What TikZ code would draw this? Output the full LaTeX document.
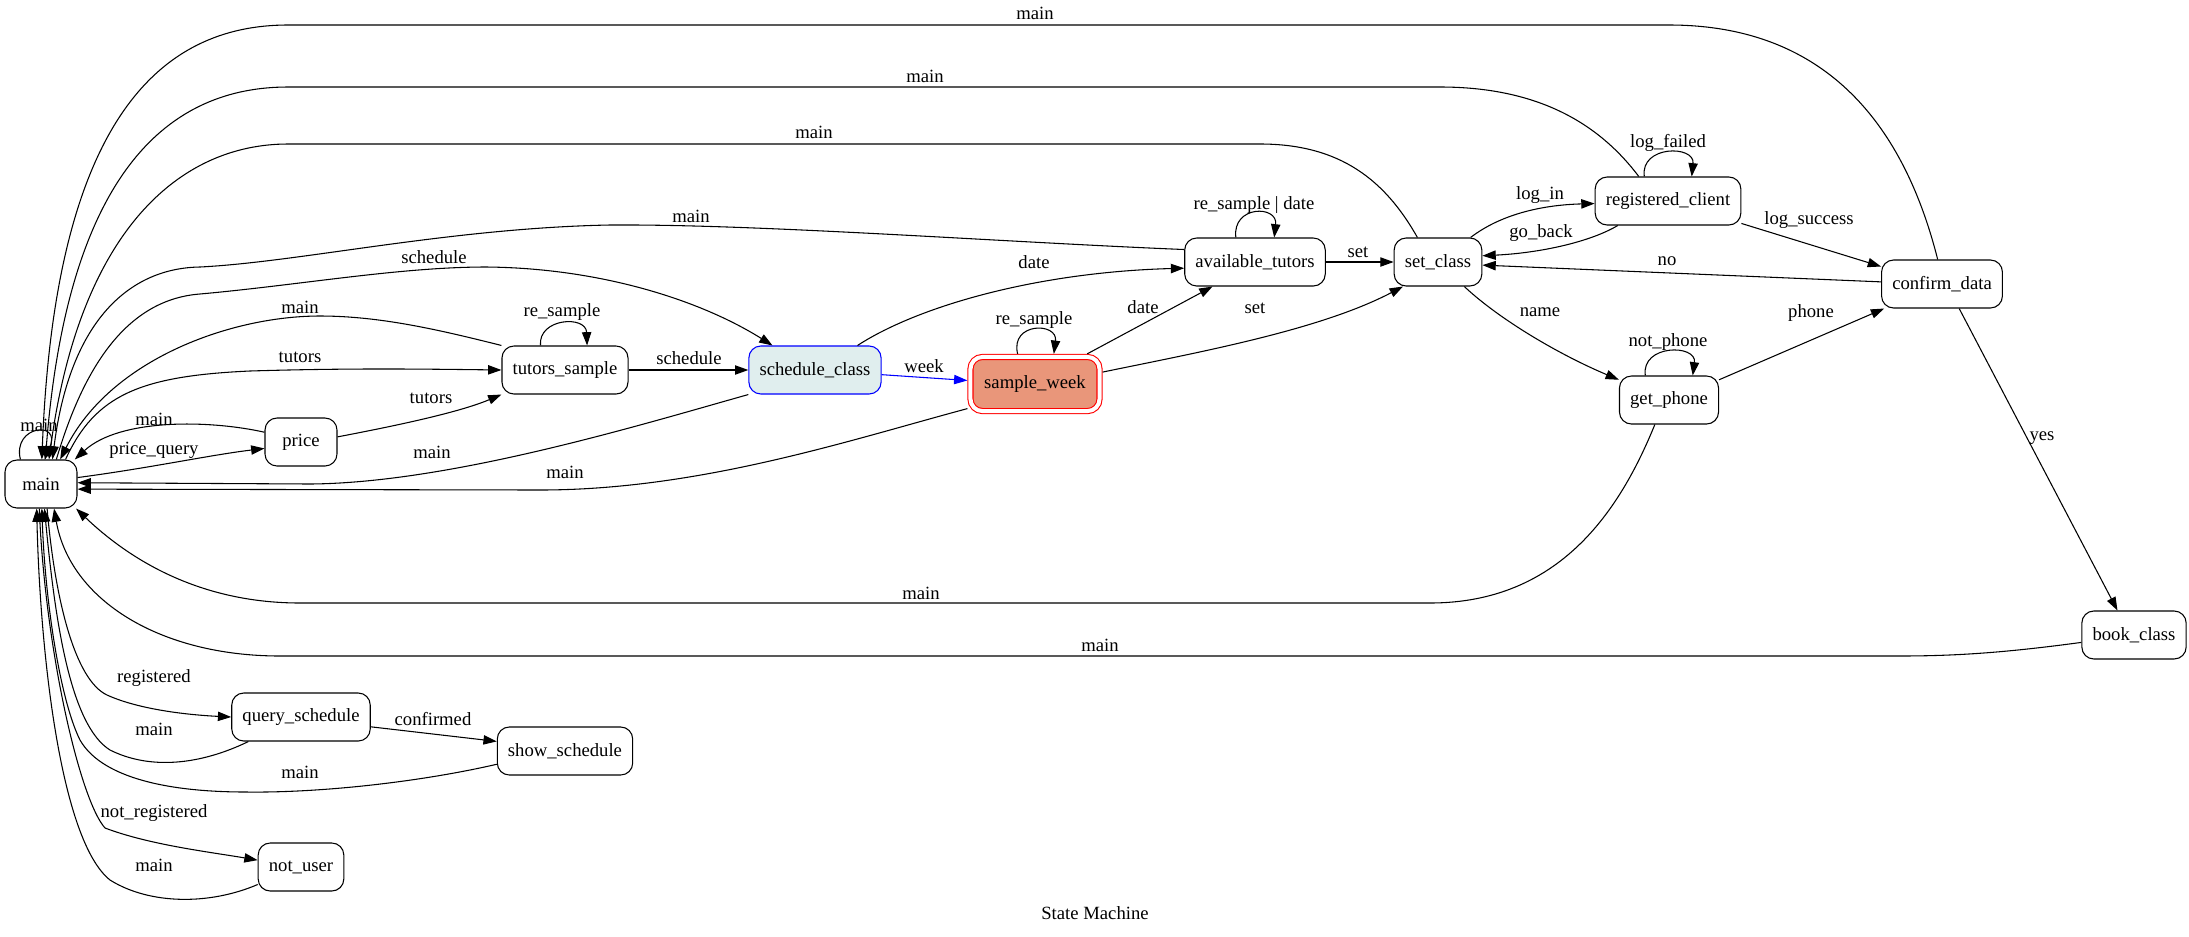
\documentclass[tikz,border=0pt]{standalone}
\usepackage{fontspec}
\setmainfont{Liberation Serif}
\usetikzlibrary{arrows.meta}
\definecolor{azuretwo}{HTML}{E0EEEE}
\definecolor{darksalmon}{HTML}{E9967A}

\begin{document}
\begin{tikzpicture}[x=0.75pt,y=-0.75pt]
\tikzset{
  statenode/.style={draw=black,line width=0.8pt,rounded corners=9pt,minimum width=54pt,minimum height=36pt,inner xsep=8pt,inner ysep=1pt,font=\fontsize{14}{16}\selectfont},
  activenode/.style={statenode,draw=blue,fill=azuretwo},
  currentnode/.style={statenode,draw=red,fill=darksalmon,double=white,double distance=3pt,minimum height=40.6pt,inner xsep=10.3pt,outer sep=2.3pt},
  edgelabel/.style={inner sep=0pt,font=\fontsize{14}{16}\selectfont},
  trans/.style={draw=black,line width=0.8pt,line join=round,-{Triangle[length=10pt,width=7pt]}}
}
\useasboundingbox (0,0) rectangle (2189,936);
\node[statenode] (n_main) at (41,484) {main};
\node[statenode] (n_price) at (301,442) {price};
\node[statenode] (n_tutors_sample) at (565,370) {tutors\_sample};
\node[activenode] (n_schedule_class) at (815,370) {schedule\_class};
\node[currentnode] (n_sample_week) at (1035,384) {sample\_week};
\node[statenode] (n_available_tutors) at (1255,262) {available\_tutors};
\node[statenode] (n_set_class) at (1438,262) {set\_class};
\node[statenode] (n_registered_client) at (1668,201) {registered\_client};
\node[statenode] (n_confirm_data) at (1942,284) {confirm\_data};
\node[statenode] (n_get_phone) at (1669,400) {get\_phone};
\node[statenode] (n_book_class) at (2134,635) {book\_class};
\node[statenode] (n_query_schedule) at (301,717) {query\_schedule};
\node[statenode] (n_show_schedule) at (565,751) {show\_schedule};
\node[statenode] (n_not_user) at (301,867) {not\_user};
\node[edgelabel] (n_title) at (1095,913) {State Machine};
\draw[trans] (n_main.130) .. controls (12,425) and (62,420) .. (n_main.82);
\draw[trans] (n_confirm_data.100) .. controls (1905,130) and (1830,25) .. (1669,25) -- (288,25) .. controls (160,25) and (55,120) .. (n_main.88);
\draw[trans] (n_registered_client.140) .. controls (1600,125) and (1540,87) .. (1440,87) -- (288,87) .. controls (170,87) and (68,170) .. (n_main.80);
\draw[trans] (n_set_class.130) .. controls (1385,180) and (1340,144) .. (1260,144) -- (288,144) .. controls (180,144) and (80,230) .. (n_main.72);
\draw[trans] (n_available_tutors.170) .. controls (1000,242) and (760,224) .. (610,225) .. controls (450,228) and (300,262) .. (200,267) .. controls (130,268) and (70,320) .. (n_main.65);
\draw[trans] (n_main.58) .. controls (80,380) and (120,300) .. (200,294) .. controls (300,285) and (400,267) .. (486,267) .. controls (600,268) and (700,300) .. (n_schedule_class.150);
\draw[trans] (n_tutors_sample.north west) .. controls (440,330) and (380,316) .. (320,316) .. controls (230,316) and (110,360) .. (n_main.52);
\draw[trans] (n_main.45) .. controls (95,395) and (140,376) .. (250,371) .. controls (350,368) and (420,369) .. (n_tutors_sample.west);
\draw[trans] (n_price.165) .. controls (210,420) and (120,418) .. (n_main.36);
\draw[trans] (n_main.10) .. controls (150,468) and (210,455) .. (n_price.190);
\draw[trans] (n_price.8) .. controls (400,425) and (460,412) .. (n_tutors_sample.south west);
\draw[trans] (n_tutors_sample.135) .. controls (538,318) and (586,315) .. (n_tutors_sample.48);
\draw[trans] (n_tutors_sample) -- (n_schedule_class);
\draw[trans] (n_schedule_class.south west) .. controls (640,425) and (450,483) .. (310,484) -- (n_main.2);
\draw[trans] (n_sample_week.200) .. controls (850,440) and (700,490) .. (540,490) -- (n_main.-8);
\draw[trans,draw=blue] (n_schedule_class.-4) -- (n_sample_week.177);
\draw[trans] (n_schedule_class.30) .. controls (920,305) and (1040,272) .. (n_available_tutors.185);
\draw[trans] (n_sample_week.120) .. controls (1010,322) and (1058,322) .. (n_sample_week.58);
\draw[trans] (n_sample_week.30) -- (n_available_tutors.210);
\draw[trans] (n_sample_week.10) .. controls (1200,352) and (1320,330) .. (n_set_class.215);
\draw[trans] (n_available_tutors.128) .. controls (1232,205) and (1278,205) .. (n_available_tutors.52);
\draw[trans] (n_available_tutors) -- (n_set_class);
\draw[trans] (n_set_class.37) .. controls (1500,215) and (1540,205) .. (n_registered_client.182);
\draw[trans] (n_registered_client.206) .. controls (1590,242) and (1540,253) .. (n_set_class.8);
\draw[trans] (n_registered_client.134) .. controls (1640,145) and (1695,145) .. (n_registered_client.46);
\draw[trans] (n_registered_client.-17) -- (n_confirm_data.164);
\draw[trans] (n_confirm_data.178) -- (n_set_class.-4);
\draw[trans] (n_confirm_data.-55) -- (n_book_class.124);
\draw[trans] (n_set_class.-43) .. controls (1500,320) and (1560,355) .. (n_get_phone.158);
\draw[trans] (n_get_phone.134) .. controls (1641,344) and (1697,344) .. (n_get_phone.46);
\draw[trans] (n_get_phone.22) -- (n_confirm_data.203);
\draw[trans] (n_get_phone.240) .. controls (1620,510) and (1560,603) .. (1430,603) -- (300,603) .. controls (200,603) and (130,560) .. (n_main.-35);
\draw[trans] (n_book_class.188) .. controls (2010,652) and (1960,656) .. (1900,656) -- (280,656) .. controls (160,656) and (70,600) .. (n_main.-62);
\draw[trans] (n_main.-76) .. controls (55,600) and (75,680) .. (107,695) .. controls (140,710) and (190,715) .. (n_query_schedule.west);
\draw[trans] (n_query_schedule.205) .. controls (200,765) and (150,770) .. (110,750) .. controls (70,725) and (55,620) .. (n_main.-82);
\draw[trans] (n_query_schedule.-8) -- (n_show_schedule.172);
\draw[trans] (n_show_schedule.191) .. controls (420,782) and (320,793) .. (246,792) .. controls (160,792) and (100,775) .. (80,740) .. controls (60,700) and (45,600) .. (n_main.-88);
\draw[trans] (n_main.-94) .. controls (45,650) and (80,800) .. (105,828) .. controls (150,845) and (210,852) .. (n_not_user.171);
\draw[trans] (n_not_user.202) .. controls (210,905) and (150,905) .. (110,880) .. controls (60,840) and (40,650) .. (n_main.-100);
\node[edgelabel] (l_main_loop) at (39,425) {main};
\node[edgelabel] (l_price_query) at (154,450) {price\_query};
\node[edgelabel] (l_price_main) at (154,419) {main};
\node[edgelabel] (l_price_tutors) at (431,398) {tutors};
\node[edgelabel] (l_main_tutors) at (300,357) {tutors};
\node[edgelabel] (l_tutors_main) at (300,307) {main};
\node[edgelabel] (l_tutors_loop) at (562,312) {re\_sample};
\node[edgelabel] (l_tutors_schedule) at (689,358) {schedule};
\node[edgelabel] (l_main_schedule) at (434,257) {schedule};
\node[edgelabel] (l_schedule_main) at (432,452) {main};
\node[edgelabel] (l_week_main) at (565,472) {main};
\node[edgelabel] (l_week) at (924,366) {week};
\node[edgelabel] (l_schedule_date) at (1034,262) {date};
\node[edgelabel] (l_week_loop) at (1034,320) {re\_sample};
\node[edgelabel] (l_week_date) at (1143,307) {date};
\node[edgelabel] (l_week_set) at (1255,308) {set};
\node[edgelabel] (l_tutors_loop2) at (1254,205) {re\_sample | date};
\node[edgelabel] (l_tutors_set) at (1358,252) {set};
\node[edgelabel] (l_available_main) at (691,216) {main};
\node[edgelabel] (l_set_main) at (814,132) {main};
\node[edgelabel] (l_client_main) at (925,76) {main};
\node[edgelabel] (l_confirm_main) at (1035,13) {main};
\node[edgelabel] (l_log_in) at (1540,195) {log\_in};
\node[edgelabel] (l_go_back) at (1541,233) {go\_back};
\node[edgelabel] (l_log_failed) at (1668,143) {log\_failed};
\node[edgelabel] (l_log_success) at (1809,220) {log\_success};
\node[edgelabel] (l_no) at (1667,261) {no};
\node[edgelabel] (l_yes) at (2042,438) {yes};
\node[edgelabel] (l_name) at (1540,312) {name};
\node[edgelabel] (l_not_phone) at (1668,342) {not\_phone};
\node[edgelabel] (l_phone) at (1811,313) {phone};
\node[edgelabel] (l_phone_main) at (921,593) {main};
\node[edgelabel] (l_book_main) at (1100,645) {main};
\node[edgelabel] (l_registered) at (154,678) {registered};
\node[edgelabel] (l_query_main) at (154,729) {main};
\node[edgelabel] (l_confirmed) at (433,719) {confirmed};
\node[edgelabel] (l_show_main) at (300,772) {main};
\node[edgelabel] (l_not_registered) at (154,813) {not\_registered};
\node[edgelabel] (l_user_main) at (154,865) {main};
\end{tikzpicture}
\end{document}
